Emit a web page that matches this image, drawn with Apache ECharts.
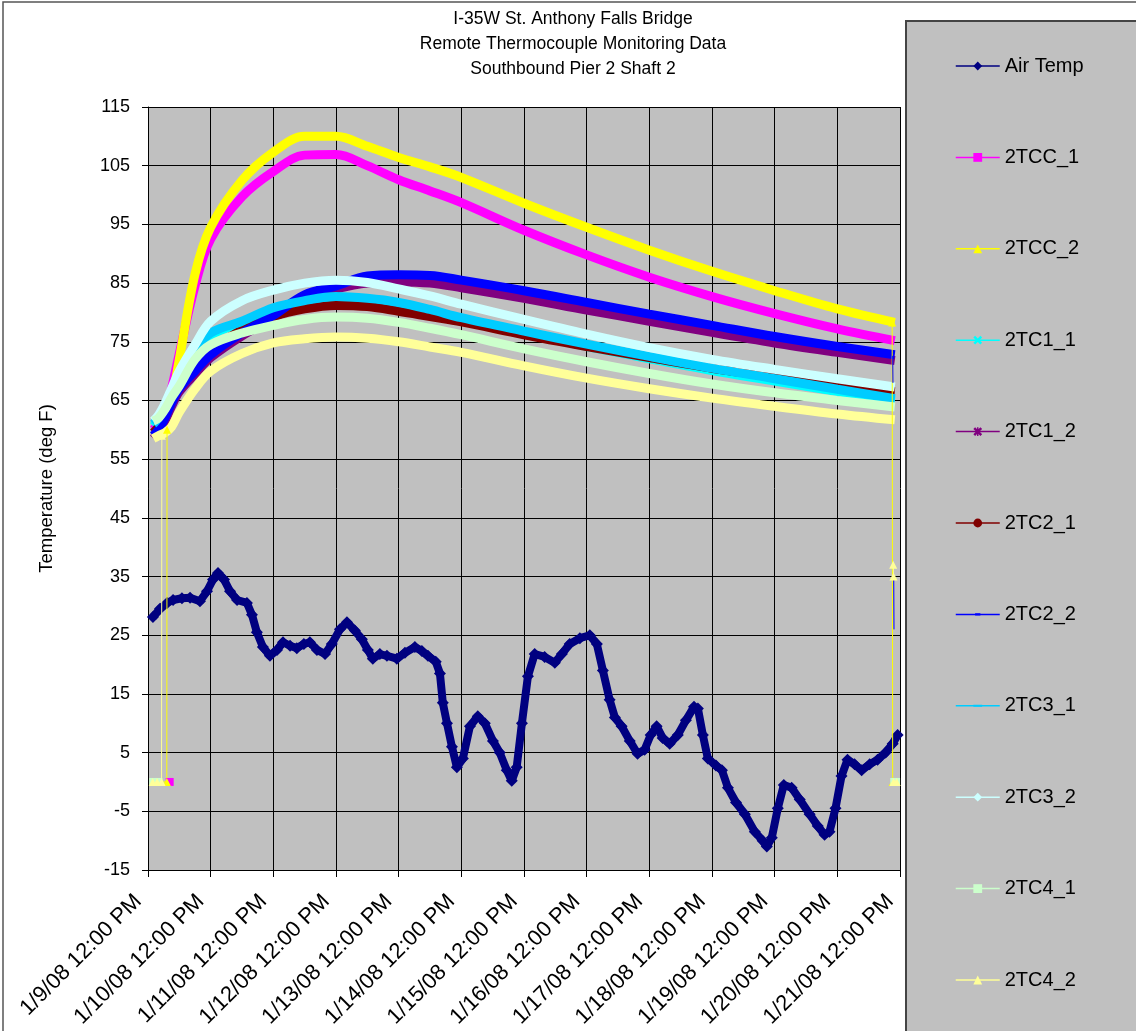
<!DOCTYPE html>
<html><head><meta charset="utf-8">
<script src="https://cdn.jsdelivr.net/npm/echarts@6/dist/echarts.min.js"></script>
<style>html,body{margin:0;padding:0;background:#fff}#c{width:1136px;height:1031px}</style>
</head><body><div id="c"></div>
<script>
// x axis: hours since 1/9/08 12:00 PM
const xTickLabels = ['1/9/08 12:00 PM','1/10/08 12:00 PM','1/11/08 12:00 PM','1/12/08 12:00 PM','1/13/08 12:00 PM','1/14/08 12:00 PM','1/15/08 12:00 PM','1/16/08 12:00 PM','1/17/08 12:00 PM','1/18/08 12:00 PM','1/19/08 12:00 PM','1/20/08 12:00 PM','1/21/08 12:00 PM'];
const seriesNames = ['Air Temp','2TCC_1','2TCC_2','2TC1_1','2TC1_2','2TC2_1','2TC2_2','2TC3_1','2TC3_2','2TC4_1','2TC4_2'];
const seriesColors = ['#000080','#FF00FF','#FFFF00','#00FFFF','#800080','#800000','#0000FF','#00CCFF','#CCFFFF','#CCFFCC','#FFFF99'];

// Air temperature: [hour, degF]
const airTemp = [[1.9,28.1],[4.6,29.5],[7.3,30.5],[9.6,31.0],[13.0,31.3],[16.1,31.4],[19.9,30.8],[22.6,32.5],[24.9,34.5],[26.8,35.6],[29.1,34.5],[31.4,32.5],[34.1,31.0],[37.9,30.5],[39.8,28.5],[41.7,25.5],[44.0,23.0],[46.7,21.5],[49.4,22.5],[51.7,23.8],[54.4,23.2],[57.0,22.8],[59.7,23.5],[62.0,23.8],[64.7,22.5],[67.8,21.8],[70.4,23.5],[73.5,26.0],[76.2,27.2],[79.2,25.8],[81.9,24.3],[84.2,22.5],[86.1,21.0],[88.8,21.8],[91.5,21.5],[95.3,21.0],[98.4,22.0],[102.2,23.0],[104.9,22.3],[107.2,21.5],[110.2,20.5],[111.8,18.5],[112.9,13.5],[114.5,10.0],[116.4,6.0],[118.3,2.5],[120.6,4.0],[123.3,9.5],[126.3,11.2],[129.0,10.0],[132.1,7.0],[134.7,5.0],[137.4,2.0],[139.3,0.2],[141.2,2.5],[143.2,10.0],[145.5,18.0],[148.1,21.8],[151.9,21.3],[155.8,20.3],[158.5,21.8],[161.5,23.5],[165.4,24.5],[169.2,25.0],[171.9,23.5],[174.2,19.0],[176.8,14.0],[178.8,11.0],[181.4,9.5],[184.5,7.0],[187.5,4.8],[190.2,5.5],[192.5,8.0],[194.8,9.5],[197.1,7.5],[199.8,6.5],[202.9,8.0],[206.0,10.5],[209.1,12.8],[210.6,12.5],[212.5,8.0],[214.4,4.0],[217.5,2.8],[219.8,2.0],[222.1,-1.0],[225.2,-3.5],[228.6,-5.5],[232.4,-8.5],[235.4,-10.0],[237.0,-11.0],[238.9,-9.5],[241.2,-4.5],[243.5,-0.5],[246.5,-1.0],[249.6,-3.0],[253.4,-5.5],[256.5,-7.5],[259.1,-9.0],[261.0,-8.5],[263.3,-4.5],[265.6,1.0],[267.9,3.8],[270.6,3.0],[273.3,2.0],[276.4,3.0],[279.4,3.8],[282.5,5.0],[285.2,6.5],[287.1,8.0]];

// Thermocouple readings sampled at these hours
const tcHours = [2,4,6.5,9,12,18,24,36,48,60,72,84,96,108,120,144,168,192,216,240,264,286];
const tcc1 = [60,61,63,67,73,84.5,92.5,99.7,104,106.8,106.9,105,102.6,100.7,98.7,94,89.8,86,82.7,79.8,77.2,75.2];
const tcc2 = [59.5,60,61.5,65,72,86.5,94.5,102.5,107.3,110,110,108.3,106.4,104.8,103,98.6,94.5,90.6,87,83.7,80.6,78.3];
const tc1_1 = [60.6,61.6,63.6,66.1,68.6,73.1,76.1,78.3,80.4,81.6,82.3,82,81.3,80.1,78.7,76.4,74.2,72.1,70.1,68.3,66.5,64.9];
const tc1_2 = [58.5,59.5,61.5,64,66.5,69.5,72.3,76,79,82.5,84,85,85.2,85,84.2,82.4,80.4,78.5,76.6,74.8,73.2,71.8];
const tc2_1 = [59.5,60.5,62.5,65,67.5,70.5,73.5,77,79.3,80.6,81.2,81,80.2,79.3,78.4,76.2,74.2,72.3,70.5,69,67.6,66.5];
const tc2_2 = [59,60,62,64.5,67,70,72.8,76.5,79.5,83,84.5,86.2,86.4,86.3,85.5,83.7,81.7,79.7,77.8,75.9,74.2,72.8];
const tc3_1 = [61,62,64,66.5,69,73.5,76.5,78.5,80.8,82,82.7,82.4,81.7,80.5,79.1,76.8,74.6,72.5,70.5,68.7,66.9,65.3];
const tc3_2 = [61.5,62.5,64.5,67,70,74.5,78.5,82,83.8,85,85.5,85.1,84,82.8,81.4,78.8,76.3,74,72,70.3,68.7,67.3];
const tc4_1 = [61.5,62,63.5,65.5,67.5,72,74.5,76.5,77.8,78.8,79.2,79,78.3,77.3,76.2,73.8,71.6,69.6,67.8,66.3,65,63.9];
const tc4_2 = [58.5,59,59.5,60.5,63,67,70,73,74.8,75.5,75.8,75.6,75,74.1,73.2,70.9,68.8,67,65.4,64,62.7,61.7];

// Sensor dropouts (readings of 0 at start/end of record): [hour, degF]
const dropTCC1 = [[8.3,0]];
const dropTCC2 = [[3.0,0],[5.0,0],[7.2,0],[7.3,60],[null,null],[285.0,78.3],[285.2,0],[286.6,0]];
const dropTC2_2 = [[285.2,72.6],[285.3,68.0],[null,null],[285.6,35.0],[285.7,26.0]];
const dropTC4_1 = [[2.0,0],[4.0,0],[null,null],[285.8,0],[286.5,0]];
const dropTC4_2 = [[1.8,0],[3.5,0],[5.2,0],[5.3,59],[null,null],[285.4,37],[285.5,35],[null,null],[285.5,0],[286.7,0]];

const FONT = '"Liberation Sans", Arial, sans-serif';
const tiny = 'M0,0 L0.01,0 L0,0.01 Z M10,10 L9.99,10 L10,9.99 Z ';
const symbols = ['diamond','rect','triangle',
  'path://M0,2 L2,0 L5,3 L8,0 L10,2 L7,5 L10,8 L8,10 L5,7 L2,10 L0,8 L3,5 Z',
  'path://M0,2 L2,0 L5,3 L8,0 L10,2 L7,5 L10,8 L8,10 L5,7 L2,10 L0,8 L3,5 Z M4.2,0 L5.8,0 L5.8,10 L4.2,10 Z',
  'circle',
  'path://' + tiny + 'M2,3.8 L8,3.8 L8,6.2 L2,6.2 Z',
  'path://' + tiny + 'M0,3.8 L10,3.8 L10,6.2 L0,6.2 Z',
  'diamond','rect','triangle'];

const tcArrays = [tcc1, tcc2, tc1_1, tc1_2, tc2_1, tc2_2, tc3_1, tc3_2, tc4_1, tc4_2];

const series = [];
series.push({
  name: seriesNames[0], type: 'line', data: airTemp,
  color: seriesColors[0], symbol: 'diamond', symbolSize: 12, showSymbol: true,
  lineStyle: {width: 8, color: seriesColors[0]}, itemStyle: {color: seriesColors[0]},
  z: 2
});
tcArrays.forEach((arr, i) => {
  series.push({
    name: seriesNames[i+1], type: 'line',
    data: tcHours.map((h, j) => [h, arr[j]]),
    color: seriesColors[i+1], symbol: symbols[i+1], symbolKeepAspect: true,
    showSymbol: false, smooth: 0.35,
    lineStyle: {width: 9, color: seriesColors[i+1]}, itemStyle: {color: seriesColors[i+1]},
    z: 2
  });
});
function dropSeries(name, data, color, symbol) {
  return {
    name: name, type: 'line', data: data.map(p => p[0] === null ? '-' : p), color: color,
    symbol: symbol, symbolSize: 8, showSymbol: true, connectNulls: false,
    lineStyle: {width: 1, color: color}, itemStyle: {color: color}, z: 3
  };
}
series.push(dropSeries('2TCC_1 dropout', dropTCC1, seriesColors[1], 'rect'));
series.push(dropSeries('2TCC_2 dropout', dropTCC2, seriesColors[2], 'triangle'));
series.push(dropSeries('2TC2_2 dropout', dropTC2_2, seriesColors[6], 'none'));
series.push(dropSeries('2TC4_1 dropout', dropTC4_1, seriesColors[9], 'rect'));
series.push(dropSeries('2TC4_2 dropout', dropTC4_2, seriesColors[10], 'triangle'));

const chart = echarts.init(document.getElementById('c'), null, {renderer: 'canvas'});
chart.setOption({
  animation: false,
  backgroundColor: '#ffffff',
  graphic: [
    {type: 'rect', shape: {x: 3, y: 2, width: 1150, height: 1050}, style: {fill: 'none', stroke: '#555', lineWidth: 1.5}, z: 0},
    {type: 'rect', shape: {x: 906, y: 21, width: 250, height: 1030}, style: {fill: '#C0C0C0', stroke: '#444', lineWidth: 2}, z: 0}
  ],
  title: {
    text: 'I-35W St. Anthony Falls Bridge\nRemote Thermocouple Monitoring Data\nSouthbound Pier 2 Shaft 2',
    left: 568, top: 2, textAlign: 'center',
    textStyle: {fontFamily: FONT, fontSize: 17.5, fontWeight: 'normal', color: '#000', lineHeight: 25}
  },
  legend: {
    data: seriesNames, orient: 'vertical', left: 950, top: 51,
    itemWidth: 44, itemHeight: 11, itemGap: 71.4,
    lineStyle: {width: 1.5},
    textStyle: {fontFamily: FONT, fontSize: 20, color: '#000', lineHeight: 20},
    selectedMode: false, z: 5
  },
  grid: {left: 148, right: 236, top: 107, bottom: 161, show: true, backgroundColor: '#C0C0C0', borderWidth: 0},
  xAxis: {
    type: 'value', min: 0, max: 288, interval: 24,
    axisLine: {show: true, onZero: false, lineStyle: {color: '#000', width: 1}},
    axisTick: {show: true, length: 7, lineStyle: {color: '#000'}},
    splitLine: {show: true, lineStyle: {color: '#000', width: 1}},
    axisLabel: {rotate: 45, fontFamily: FONT, fontSize: 22, color: '#000', margin: 18, padding: [0, 14, 0, 0],
      formatter: v => xTickLabels[Math.round(v / 24)] || ''}
  },
  yAxis: {
    type: 'value', min: -15, max: 115, interval: 10,
    name: 'Temperature (deg F)', nameLocation: 'middle', nameGap: 92,
    nameTextStyle: {fontFamily: FONT, fontSize: 18.5, color: '#000'},
    axisLine: {show: true, onZero: false, lineStyle: {color: '#000', width: 1}},
    axisTick: {show: true, length: 6, lineStyle: {color: '#000'}},
    splitLine: {show: true, lineStyle: {color: '#000', width: 1}},
    axisLabel: {fontFamily: FONT, fontSize: 18, color: '#000', margin: 18}
  },
  series: series
});
</script></body></html>
